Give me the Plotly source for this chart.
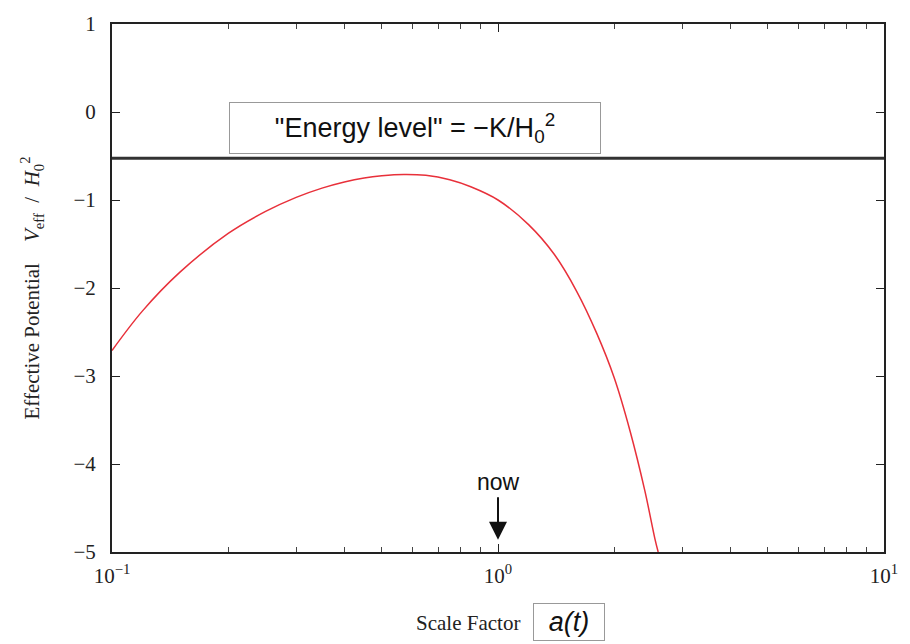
import plotly.graph_objects as go

# Values
scale_factor = [0.10, 0.12, 0.15, 0.20, 0.25, 0.30, 0.35, 0.40, 0.45, 0.50, 0.57,
                0.65, 0.75, 0.85, 1.00, 1.20, 1.40, 1.60, 1.80, 2.00, 2.20, 2.40,
                2.55, 2.60]
v_eff = [-2.71, -2.26, -1.82, -1.38, -1.13, -0.97, -0.865, -0.795, -0.75, -0.725, -0.71,
         -0.72, -0.77, -0.85, -1.00, -1.28, -1.62, -2.04, -2.51, -3.02, -3.63, -4.30,
         -4.85, -5.00]
energy_level = -0.525
x_tickvals = [0.1, 1, 10]
x_ticktext = ["10<sup>−1</sup>", "10<sup>0</sup>", "10<sup>1</sup>"]
x_minor = [0.2, 0.3, 0.4, 0.5, 0.6, 0.7, 0.8, 0.9, 2, 3, 4, 5, 6, 7, 8, 9]
y_tickvals = [1, 0, -1, -2, -3, -4, -5]

serif = "Liberation Serif, DejaVu Serif, serif"
sans = "Liberation Sans, Arial, sans-serif"

fig = go.Figure()
fig.add_trace(go.Scatter(x=[0.1, 10], y=[energy_level, energy_level], mode="lines",
                         line=dict(color="#333333", width=3), hoverinfo="skip"))
fig.add_trace(go.Scatter(x=scale_factor, y=v_eff, mode="lines",
                         line=dict(color="#e8303a", width=1.5, shape="spline", smoothing=1.0)))

fig.update_layout(
    width=910, height=644,
    margin=dict(l=112, r=22, t=17, b=92),
    paper_bgcolor="white", plot_bgcolor="white",
    showlegend=False,
    font=dict(family=serif, size=20, color="#222"),
)
fig.update_xaxes(
    type="log", range=[-1, 1],
    tickvals=x_tickvals, ticktext=x_ticktext,
    ticks="inside", ticklen=8, tickwidth=1, tickcolor="#222",
    minor=dict(tickvals=x_minor, ticks="inside", ticklen=5, tickcolor="#444", showgrid=False),
    showline=True, linecolor="#222", linewidth=2, mirror="ticks",
    showgrid=False, zeroline=False,
    ticklabelstandoff=4,
    tickfont=dict(family=serif, size=21, color="#222"),
)
fig.update_yaxes(
    range=[-5, 1], tickvals=y_tickvals,
    ticks="inside", ticklen=8, tickwidth=1, tickcolor="#222",
    showline=True, linecolor="#222", linewidth=2, mirror="ticks",
    showgrid=False, zeroline=False,
    ticklabelstandoff=10,
    tickfont=dict(family=serif, size=21, color="#222"),
    title=dict(text="Effective Potential    <i>V</i><sub>eff</sub>  /  <i>H</i><sub>0</sub><sup>2</sup>",
               font=dict(family=serif, size=21, color="#222"), standoff=28),
)

# Energy level box
fig.add_annotation(xref="paper", yref="paper", x=(417 - 112) / 776, y=1 - (122 - 17) / 535,
                   xanchor="center", yanchor="middle",
                   text="\"Energy level\" = −K/H<sub>0</sub><sup>2</sup>",
                   showarrow=False, font=dict(family=sans, size=27, color="#111"),
                   bgcolor="white", bordercolor="#999", borderwidth=1,
                   width=364, height=44, borderpad=3)

# now arrow
fig.add_annotation(x=0, y=-4.86, xref="x", yref="y", text="",
                   showarrow=True, arrowhead=2, arrowsize=1.8, arrowwidth=2,
                   arrowcolor="#111", ax=0, ay=-44)
fig.add_annotation(x=0, y=-4.2, xref="x", yref="y", text="now",
                   showarrow=False, font=dict(family=sans, size=23, color="#111"),
                   yanchor="middle")

# x-axis title pieces
fig.add_annotation(xref="paper", yref="paper", x=(470 - 112) / 776, y=-(624 - 552) / 535,
                   xanchor="center", yanchor="middle",
                   text="Scale Factor", showarrow=False,
                   font=dict(family=serif, size=21, color="#222"))
fig.add_annotation(xref="paper", yref="paper", x=(571 - 112) / 776, y=-(623 - 552) / 535,
                   xanchor="center", yanchor="middle",
                   text="<i>a(t)</i>", showarrow=False,
                   font=dict(family=sans, size=27, color="#111"),
                   bgcolor="white", bordercolor="#999", borderwidth=1,
                   width=66, height=32, borderpad=2)

fig.write_html("out.html")
